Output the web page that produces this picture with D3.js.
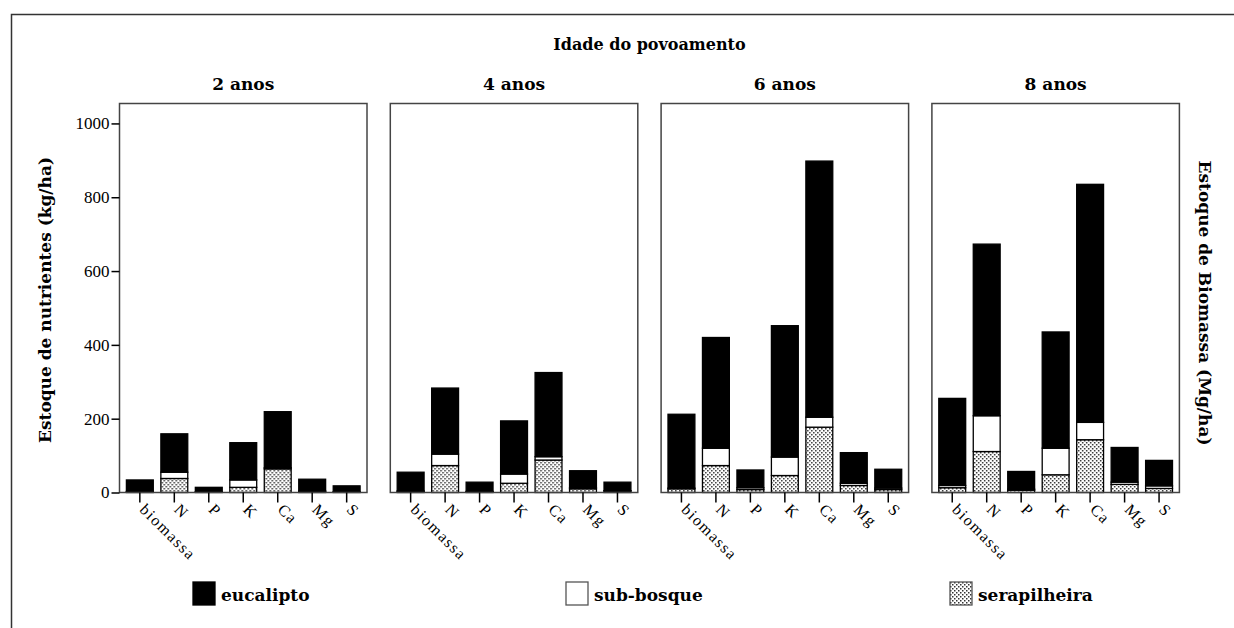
<!DOCTYPE html>
<html>
<head>
<meta charset="utf-8">
<script src="https://cdn.jsdelivr.net/npm/d3@7"></script>
<style>
    body { margin: 0; background: #fff; }
    svg text { font-family: "Liberation Serif", "DejaVu Serif", serif; fill: #000; }
    svg text.bold { font-family: "DejaVu Serif", serif; font-weight: bold; }
</style>
</head>
<body>
<svg id="chart"></svg>
<script>
const categories = ["biomassa", "N", "P", "K", "Ca", "Mg", "S"];
const ages = ["2 anos", "4 anos", "6 anos", "8 anos"];
const seriesNames = ["eucalipto", "sub-bosque", "serapilheira"];
const yTicks = [0, 200, 400, 600, 800, 1000];

// valores por idade (linhas) e categoria (colunas)
const serapilheira = [
    [2, 38, 1, 14, 64, 3, 1],
    [3, 73, 2, 25, 88, 10, 4],
    [10, 73, 8, 46, 177, 19, 8],
    [13, 111, 6, 48, 143, 22, 11]
];
const subBosque = [
    [1, 17, 1, 20, 3, 1, 1],
    [1, 31, 1, 25, 9, 3, 1],
    [2, 47, 5, 50, 27, 6, 4],
    [6, 97, 3, 72, 47, 6, 7]
];
const eucalipto = [
    [31, 104, 12, 101, 152, 32, 16],
    [51, 179, 25, 144, 228, 46, 23],
    [200, 300, 48, 356, 694, 83, 51],
    [236, 465, 48, 315, 645, 94, 69]
];

document.addEventListener("DOMContentLoaded", () => {
    const width = 1234;
    const height = 628;
    const svg = d3.select("#chart").attr("width", width).attr("height", height);

    // padrao pontilhado da serapilheira
    const pat = svg.append("defs").append("pattern")
        .attr("id", "dots")
        .attr("patternUnits", "userSpaceOnUse")
        .attr("width", 4).attr("height", 4);
    pat.append("rect").attr("width", 4).attr("height", 4).attr("fill", "#fff");
    pat.append("rect").attr("x", 0).attr("y", 0).attr("width", 1.5).attr("height", 1.5).attr("fill", "#333");
    pat.append("rect").attr("x", 2).attr("y", 2).attr("width", 1.5).attr("height", 1.5).attr("fill", "#333");

    const fills = ["#000", "#fff", "url(#dots)"];

    // moldura externa
    svg.append("path")
        .attr("d", "M11.5," + height + "V14.5H" + width)
        .attr("fill", "none").attr("stroke", "#333").attr("stroke-width", 1.5);

    const top = 103.5, bottom = 492.5;
    const panelW = 247.5, step = 270.8, left0 = 119.5;

    const y = d3.scaleLinear().domain([0, 1054]).range([bottom, top]);
    const panelX = d3.scaleBand().domain(ages)
        .range([left0, left0 + step * 4 - (step - panelW)])
        .paddingInner((step - panelW) / step);

    svg.append("text")
        .attr("class", "bold")
        .attr("x", (left0 + left0 + step * 3 + panelW) / 2)
        .attr("y", 50)
        .attr("text-anchor", "middle")
        .attr("font-size", 16)
        .text("Idade do povoamento");

    ages.forEach((age, i) => {
        const x0 = panelX(age);
        const g = svg.append("g").attr("transform", "translate(" + x0 + ",0)");

        const x = d3.scaleBand().domain(categories)
            .range([0, panelW])
            .paddingInner(0.22)
            .paddingOuter(0.2);

        g.append("text")
            .attr("class", "bold")
            .attr("x", panelW / 2).attr("y", 90)
            .attr("text-anchor", "middle")
            .attr("font-size", 17)
            .text(age);

        let rows = categories.map((c, j) => ({
            cat: c,
            eucalipto: eucalipto[i][j],
            "sub-bosque": subBosque[i][j],
            serapilheira: serapilheira[i][j]
        }));
        const stack = d3.stack().keys(["serapilheira", "sub-bosque", "eucalipto"])(rows);

        stack.forEach(layer => {
            g.append("g").selectAll("rect")
                .data(layer)
                .join("rect")
                .attr("x", d => x(d.data.cat))
                .attr("width", x.bandwidth())
                .attr("y", d => y(d[1]))
                .attr("height", d => y(d[0]) - y(d[1]))
                .attr("fill", fills[seriesNames.indexOf(layer.key)])
                .attr("stroke", "#000")
                .attr("stroke-width", 1.3);
        });

        // caixa do painel
        g.append("rect")
            .attr("x", 0).attr("y", top)
            .attr("width", panelW).attr("height", bottom - top)
            .attr("fill", "none").attr("stroke", "#444").attr("stroke-width", 1.5);

        const axisX = d3.axisBottom(x).tickSize(10).tickPadding(4);
        const gx = g.append("g")
            .attr("transform", "translate(0," + bottom + ")")
            .call(axisX);
        gx.select(".domain").remove();
        gx.selectAll(".tick line").attr("stroke", "#000").attr("stroke-width", 1.5);
        gx.selectAll(".tick text")
            .attr("font-size", 16)
            .attr("letter-spacing", 1.5)
            .attr("text-anchor", "start")
            .attr("x", 0).attr("y", 0)
            .attr("dy", "0.35em")
            .attr("transform", "translate(3,14) rotate(45)");

        if (i === 0) {
            const axisY = d3.axisLeft(y).tickValues(yTicks).tickFormat(d3.format("d"))
                .tickSize(8).tickPadding(2);
            const gy = g.append("g").call(axisY);
            gy.select(".domain").remove();
            gy.selectAll(".tick line").attr("stroke", "#000").attr("stroke-width", 1.5);
            gy.selectAll(".tick text").attr("font-size", 17);
        }
    });

    svg.append("text")
        .attr("class", "bold")
        .attr("transform", "translate(51," + ((top + bottom) / 2 + 2) + ") rotate(-90)")
        .attr("text-anchor", "middle")
        .attr("font-size", 17)
        .text("Estoque de nutrientes (kg/ha)");

    svg.append("text")
        .attr("class", "bold")
        .attr("transform", "translate(1199," + ((top + bottom) / 2 + 5) + ") rotate(90)")
        .attr("text-anchor", "middle")
        .attr("font-size", 17)
        .text("Estoque de Biomassa (Mg/ha)");

    // legenda
    const legendX = [193, 566, 950];
    const legend = svg.append("g").selectAll("g")
        .data(seriesNames)
        .join("g")
        .attr("transform", (d, k) => "translate(" + legendX[k] + ",582)");
    legend.append("rect")
        .attr("width", 22).attr("height", 23)
        .attr("fill", (d, k) => fills[k])
        .attr("stroke", (d, k) => k === 0 ? "#000" : "#555")
        .attr("stroke-width", 1.3);
    legend.append("text")
        .attr("class", "bold")
        .attr("x", 28).attr("y", 19)
        .attr("font-size", 17)
        .text(d => d);
});
</script>
</body>
</html>
